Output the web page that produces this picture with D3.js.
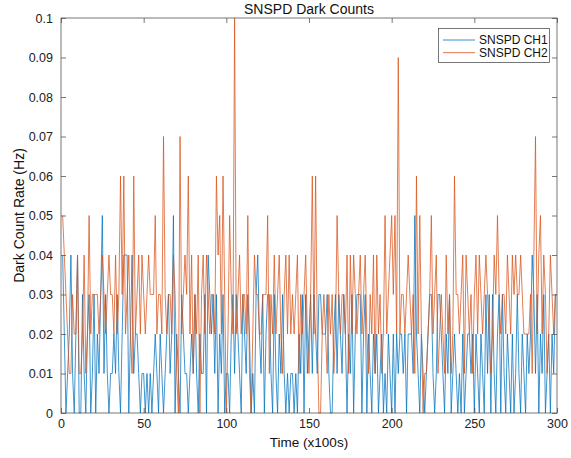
<!DOCTYPE html>
<html><head><meta charset="utf-8">
<script src="https://cdn.jsdelivr.net/npm/d3@7"></script>
<style>body{margin:0;background:#fff;} text{font-family:"Liberation Sans",Arial,Helvetica,sans-serif;}</style>
</head><body>
<svg id="chart" width="571" height="458"></svg>
<script>
// Counts per 100 s bin (value = count / 100 Hz), x = 1..300
const ch1Counts = [
4,2,0,1,2,4,1,0,2,4, 0,0,3,1,0,2,3,0,1,3, 0,2,1,3,5,1,3,1,0,1,
1,2,1,3,1,0,2,4,4,4, 0,2,4,1,2,2,1,0,1,1, 0,1,0,1,0,1,2,1,0,2,
1,0,1,2,3,1,2,5,0,2, 1,0,3,2,1,1,0,1,2,1, 3,1,0,2,1,1,3,0,4,3,
2,3,1,3,0,2,1,3,0,1, 1,0,2,3,1,3,2,1,0,3, 2,1,3,2,0,1,0,3,4,2,
1,3,0,2,3,3,1,0,3,1, 0,2,1,3,1,0,1,0,1,1, 0,1,0,2,1,3,0,3,1,2,
3,1,3,2,1,3,3,2,2,2, 3,1,0,0,2,3,1,3,2,1, 3,2,0,2,1,3,0,2,3,3,
3,0,2,3,0,2,1,0,2,1, 2,0,1,2,0,1,0,2,1,0, 2,0,2,1,2,2,1,2,0,2,
2,2,1,5,2,1,0,2,1,0, 1,2,3,3,1,0,1,3,3,2, 1,0,2,1,3,0,1,2,1,0,
1,0,2,0,1,2,2,1,2,0, 2,1,0,2,1,0,3,1,3,0, 3,1,0,2,3,0,3,1,0,2,
1,0,2,0,1,3,1,0,2,1, 0,2,1,2,4,3,1,3,0,2, 1,3,0,1,2,0,2,1,3,3];
const ch2Counts = [
5,4,3,2,1,1,3,2,2,4, 1,1,2,4,1,2,5,2,3,3, 3,3,2,3,4,3,2,3,4,3,
3,2,4,2,3,6,3,6,2,3, 4,2,1,6,2,3,4,2,4,3, 2,3,4,3,3,3,5,2,3,3,
2,7,3,2,3,3,2,4,3,1, 0,7,2,3,4,3,6,2,4,1, 3,2,4,0,3,4,2,4,3,2,
3,3,2,6,4,5,2,6,3,0, 2,5,3,2,10,2,3,4,2,3, 3,2,5,1,0,2,4,3,3,2,
2,3,3,3,5,1,3,2,4,2, 3,4,2,1,3,4,2,4,2,3, 2,3,4,1,3,2,3,4,2,1,
3,6,2,6,2,0,0,2,3,2, 1,3,2,3,1,2,5,3,2,3, 3,2,4,1,4,2,4,3,2,3,
4,2,3,4,2,1,3,2,4,1, 4,2,3,1,2,5,2,3,4,5, 3,5,2,9,2,3,3,2,3,4,
3,2,3,1,6,2,5,2,0,1, 1,2,3,5,2,3,4,1,2,3, 2,1,4,2,3,1,2,6,3,3,
2,3,4,1,4,3,2,3,1,3, 4,2,4,3,2,3,4,3,2,1, 2,4,3,5,3,2,3,3,2,4,
3,2,4,3,4,3,3,4,3,2, 2,2,2,3,1,4,7,2,4,5, 2,4,3,1,2,4,3,2,3,3];
const seriesNames = ["SNSPD CH1", "SNSPD CH2"];
const seriesColors = ["#0072BD", "#D95319"];
const xTicks = [0, 50, 100, 150, 200, 250, 300];
const yTicks = [0, 0.01, 0.02, 0.03, 0.04, 0.05, 0.06, 0.07, 0.08, 0.09, 0.1];
const titleText = "SNSPD Dark Counts";
const xLabel = "Time (x100s)";
const yLabel = "Dark Count Rate (Hz)";

const svg = d3.select("#chart");
const L = 61, R = 557, T = 18, B = 413;
const x = d3.scaleLinear().domain([0, 300]).range([L, R]);
const y = d3.scaleLinear().domain([0, 0.1]).range([B, T]);
const axisColor = "#555";

const series = [ch1Counts, ch2Counts].map(c => c.map((v, i) => ({x: i + 1, y: v / 100})));
const line = d3.line().x(d => x(d.x)).y(d => y(d.y));

svg.append("rect").attr("x", L).attr("y", T).attr("width", R - L).attr("height", B - T).attr("fill", "#fff");

const gLines = svg.append("g");
series.forEach((s, i) => {
  gLines.append("path").datum(s).attr("d", line).attr("fill", "none")
    .attr("stroke", seriesColors[i]).attr("stroke-width", 0.75).attr("stroke-linejoin", "miter");
});

function styleAxis(g) {
  g.select(".domain").remove();
  g.selectAll(".tick line").attr("stroke", axisColor).attr("stroke-width", 0.8);
  g.selectAll(".tick text").attr("fill", "#222").style("font-size", "12.5px");
}
const fmt = d => d === 0 ? "0" : d3.format("")(+d.toFixed(2));
const ax = svg.append("g").attr("transform", `translate(0,${B})`)
  .call(d3.axisBottom(x).tickValues(xTicks).tickSize(-5).tickPadding(6).tickFormat(d3.format("d")));
styleAxis(ax);
const axTop = svg.append("g").attr("transform", `translate(0,${T})`)
  .call(d3.axisTop(x).tickValues(xTicks).tickSize(-5).tickFormat(""));
styleAxis(axTop);
const ay = svg.append("g").attr("transform", `translate(${L},0)`)
  .call(d3.axisLeft(y).tickValues(yTicks).tickSize(-5).tickPadding(8).tickFormat(fmt));
styleAxis(ay);
const ayR = svg.append("g").attr("transform", `translate(${R},0)`)
  .call(d3.axisRight(y).tickValues(yTicks).tickSize(-5).tickFormat(""));
styleAxis(ayR);

svg.append("rect").attr("x", L).attr("y", T).attr("width", R - L).attr("height", B - T)
  .attr("fill", "none").attr("stroke", axisColor).attr("stroke-width", 0.8);

svg.append("text").attr("x", (L + R) / 2).attr("y", 14).attr("text-anchor", "middle")
  .style("font-size", "14px").attr("fill", "#111").text(titleText);
svg.append("text").attr("x", (L + R) / 2).attr("y", 447).attr("text-anchor", "middle")
  .style("font-size", "13.5px").attr("fill", "#111").text(xLabel);
svg.append("text").attr("transform", `translate(24,${(T + B) / 2}) rotate(-90)`).attr("text-anchor", "middle")
  .style("font-size", "14px").attr("fill", "#111").text(yLabel);

// Legend
const lg = svg.append("g");
lg.append("rect").attr("x", 438.5).attr("y", 28.5).attr("width", 111).attr("height", 34)
  .attr("fill", "#fff").attr("stroke", axisColor).attr("stroke-width", 0.8);
seriesNames.forEach((n, i) => {
  const yy = 40 + i * 12.7;
  lg.append("line").attr("x1", 443).attr("x2", 475).attr("y1", yy).attr("y2", yy)
    .attr("stroke", seriesColors[i]).attr("stroke-width", 0.8);
  lg.append("text").attr("x", 479).attr("y", yy + 4).style("font-size", "12px").attr("fill", "#111").text(n);
});
</script>
</body></html>
